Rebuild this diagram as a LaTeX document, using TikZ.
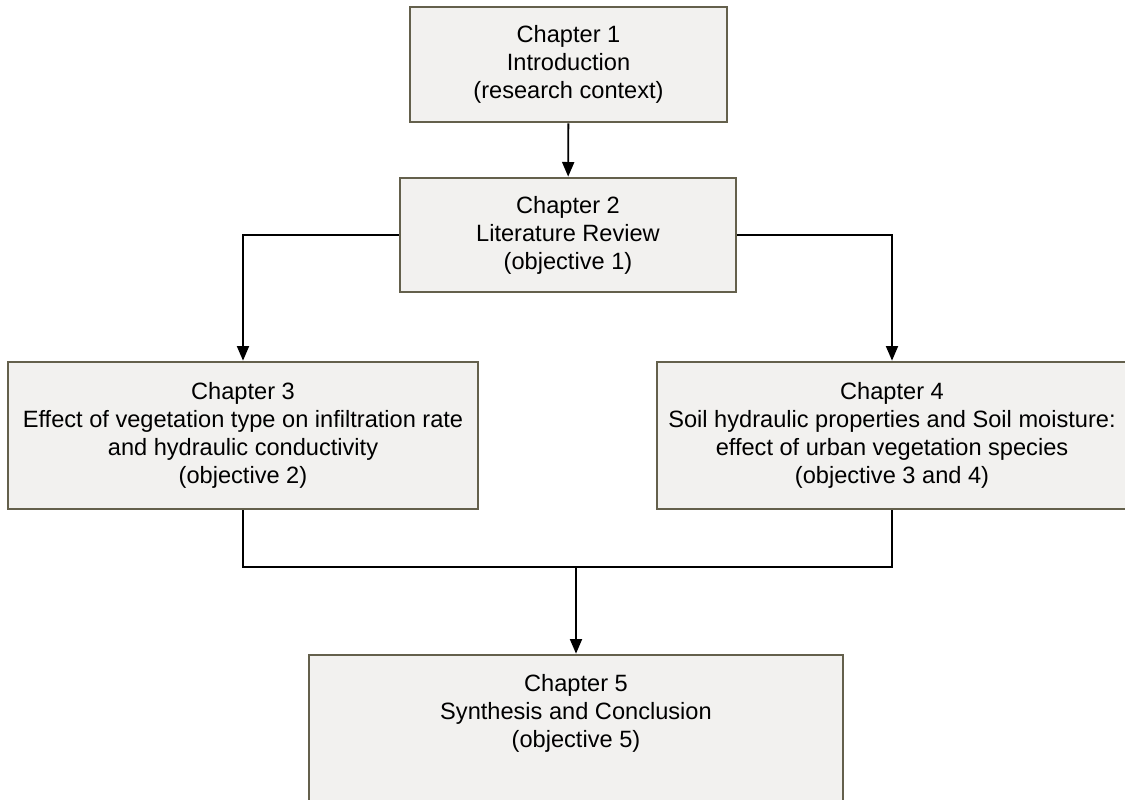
\documentclass[tikz,border=0pt]{standalone}
\usepackage{fontspec}
\setmainfont{Liberation Sans}
\usetikzlibrary{arrows.meta,positioning}
\definecolor{BoxFill}{RGB}{242,241,239}
\definecolor{BoxLine}{RGB}{100,96,76}

\tikzset{
  chapbox/.style={draw=BoxLine, fill=BoxFill, line width=2pt, inner sep=0pt,
    align=center, font=\fontsize{17.7}{21}\selectfont},
  link/.style={line width=1.4pt, -{Triangle[length=11pt,width=9pt]}},
  joint/.style={line width=1.4pt}
}

\begin{document}
\begin{tikzpicture}[x=0.75pt,y=-0.75pt]
          \useasboundingbox (0,0) rectangle (1125,800);
          % chapters
          \node[chapbox, minimum width=237.75pt, minimum height=86.25pt] (ch1) at (568.5,64.5)
            {Chapter 1\\Introduction\\(research context)};
          \node[chapbox, minimum width=252pt, minimum height=85.5pt] (ch2) at (568,235)
            {Chapter 2\\Literature Review\\(objective 1)};
          \node[chapbox, minimum width=352.5pt, minimum height=110.25pt] (ch3) at (243,435.5)
            {Chapter 3\\Effect of vegetation type on infiltration rate\\and hydraulic conductivity\\(objective 2)};
          \node[chapbox, minimum width=352.5pt, minimum height=110.25pt] (ch4) at (892,435.5)
            {Chapter 4\\Soil hydraulic properties and Soil moisture:\\effect of urban vegetation species\\(objective 3 and 4)};
          \node[chapbox, minimum width=400.5pt, minimum height=123.75pt] (ch5) at (576,737.5) {};
          \node[align=center, inner sep=0pt, font=\fontsize{17.7}{21}\selectfont] (ch5txt) at (576,713)
            {Chapter 5\\Synthesis and Conclusion\\(objective 5)};
          % links
          \draw[link] (ch1) -- (ch2);
          \draw[link] (ch2.west) -| (ch3.north);
          \draw[link] (ch2.east) -| (ch4.north);
          % merge into chapter 5
          \coordinate (mergeL) at (243,567);
          \coordinate (mergeR) at (892,567);
          \coordinate (mergeM) at (576,567);
          \draw[joint] (ch3.south) -- (mergeL) -- (mergeR) -- (ch4.south);
          \draw[link] (mergeM) -- (ch5.north);
        \end{tikzpicture}
\end{document}
